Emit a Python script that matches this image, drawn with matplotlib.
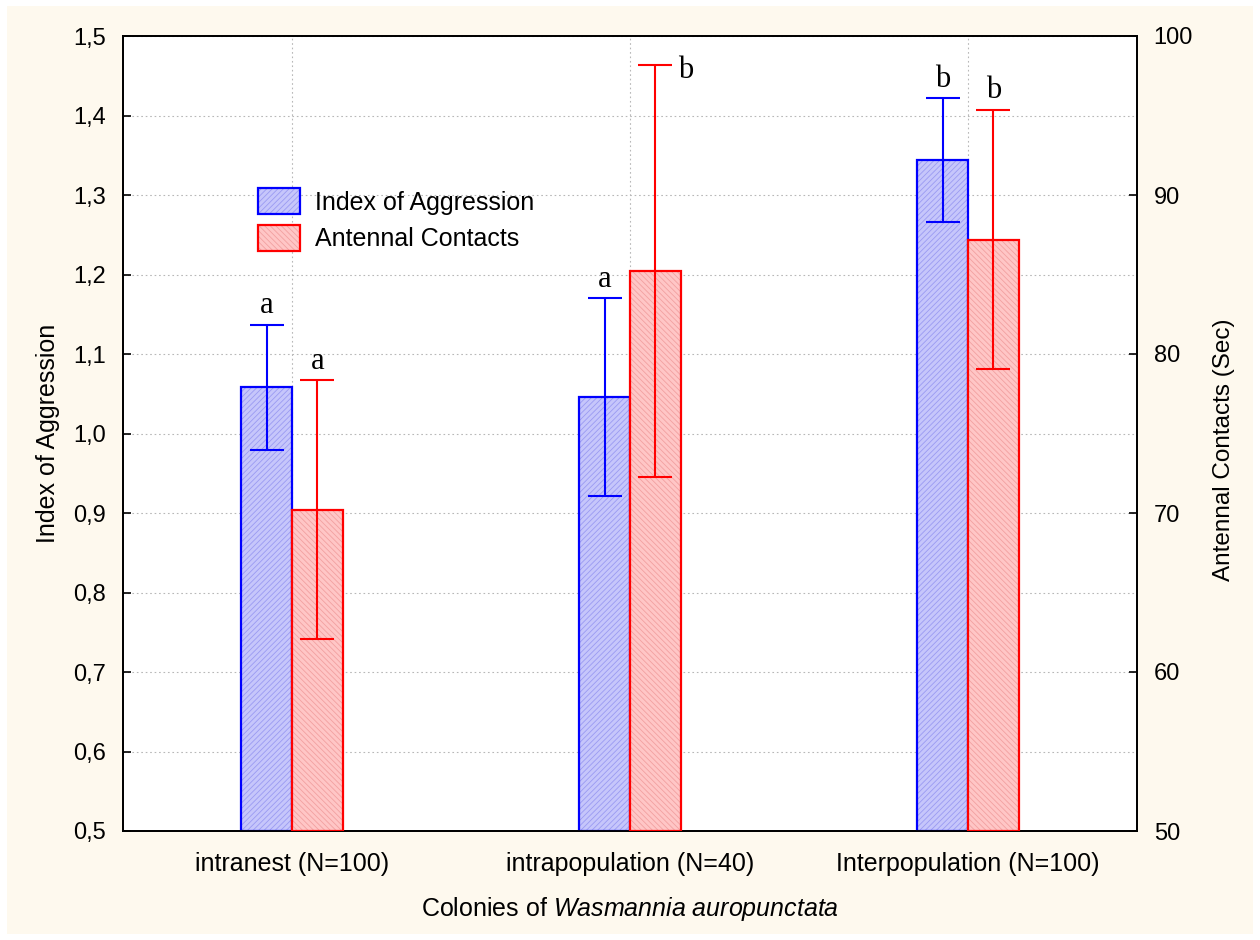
import numpy as np
import matplotlib.pyplot as plt
from matplotlib.patches import Patch, Rectangle
from matplotlib.legend_handler import HandlerTuple

plt.rcParams['font.family'] = ['Liberation Sans', 'DejaVu Sans']
plt.rcParams['mathtext.fontset'] = 'custom'
plt.rcParams['mathtext.it'] = 'Liberation Sans:italic'
plt.rcParams['mathtext.rm'] = 'Liberation Sans'
plt.rcParams['hatch.linewidth'] = 0.6

groups = ['intranest (N=100)', 'intrapopulation (N=40)', 'Interpopulation (N=100)']
aggr = [1.058, 1.046, 1.344]
aggr_err = [0.079, 0.124, 0.078]
contacts = [70.2, 85.2, 87.2]
contacts_err = [8.15, 12.95, 8.17]
aggr_letters = ['a', 'a', 'b']
contacts_letters = ['a', 'b', 'b']

fig = plt.figure(figsize=(12.6, 9.4), dpi=100, facecolor='white')
fig.patches.append(Rectangle((7/1260, 6/940), 1246/1260, 928/940, transform=fig.transFigure,
                             facecolor='#fef9ee', edgecolor='none', zorder=-10))
ax1 = fig.add_axes([123/1260, 1-831/940, 1014/1260, 795/940])
ax2 = ax1.twinx()

x = np.arange(len(groups))
w = 0.15

# blue bars (left axis)
ax1.bar(x - w/2, np.array(aggr) - 0.5, w, bottom=0.5, facecolor='#c6c6fb', edgecolor='#9a9af2',
        hatch='//////', linewidth=0, zorder=2)
ax1.bar(x - w/2, np.array(aggr) - 0.5, w, bottom=0.5, fill=False, edgecolor='blue', linewidth=1.6, zorder=3)
ax1.errorbar(x - w/2, aggr, yerr=aggr_err, fmt='none', ecolor='blue', elinewidth=1.5,
             capsize=12.5, capthick=1.5, zorder=4)

# red bars (right axis)
ax2.bar(x + w/2, np.array(contacts) - 50, w, bottom=50, facecolor='#ffc6c6', edgecolor='#f2a0a0',
        hatch='\\\\\\\\\\\\', linewidth=0, zorder=2)
ax2.bar(x + w/2, np.array(contacts) - 50, w, bottom=50, fill=False, edgecolor='red', linewidth=1.6, zorder=3)
ax2.errorbar(x + w/2, contacts, yerr=contacts_err, fmt='none', ecolor='red', elinewidth=1.5,
             capsize=12.5, capthick=1.5, zorder=4)

# significance letters
for i in range(len(groups)):
    ax1.annotate(aggr_letters[i], (x[i] - w/2, aggr[i] + aggr_err[i]), xytext=(0, 3),
                 textcoords='offset points', ha='center', va='bottom',
                 family='Liberation Serif', fontsize=22)
    if i == 1:
        ax2.annotate(contacts_letters[i], (x[i] + w/2, contacts[i] + contacts_err[i]), xytext=(16, -4),
                     textcoords='offset points', ha='left', va='center',
                     family='Liberation Serif', fontsize=22)
    else:
        ax2.annotate(contacts_letters[i], (x[i] + w/2, contacts[i] + contacts_err[i]), xytext=(0, 3),
                     textcoords='offset points', ha='center', va='bottom',
                     family='Liberation Serif', fontsize=22)

ax1.set_xlim(-0.5, 2.5)
ax1.set_ylim(0.5, 1.5)
ax2.set_ylim(50, 100)
ax1.set_xticks(x)
ax1.set_xticklabels(groups, fontsize=18)
yt = np.arange(0.5, 1.51, 0.1)
ax1.set_yticks(yt)
ax1.set_yticklabels([f'{v:.1f}'.replace('.', ',') for v in yt], fontsize=17)
ax2.set_yticks(np.arange(50, 101, 10))
ax2.tick_params(axis='y', labelsize=17)
ax1.tick_params(axis='y', direction='in', length=6, width=1.2, pad=12)
ax2.tick_params(axis='y', direction='in', length=6, width=1.2, pad=12)
ax1.tick_params(axis='x', length=0, pad=15)
ax1.grid(True, linestyle=(0, (1.5, 2.5)), color='#b8b8b8', linewidth=0.8, zorder=0)
ax1.set_axisbelow(True)
for ax in (ax1, ax2):
    for s in ax.spines.values():
        s.set_linewidth(1.3)

ax1.set_ylabel('Index of Aggression', fontsize=18, labelpad=10)
ax2.set_ylabel('Antennal Contacts (Sec)', fontsize=17.5)
ax2.yaxis.set_label_coords(1.075, 0.479)
ax1.set_xlabel('Colonies of $\\it{Wasmannia\\ auropunctata}$', fontsize=18, labelpad=14)

h1 = (Patch(facecolor='#c6c6fb', edgecolor='#9a9af2', hatch='//////', linewidth=0),
      Patch(fill=False, edgecolor='blue', linewidth=1.6))
h2 = (Patch(facecolor='#ffc6c6', edgecolor='#f2a0a0', hatch='\\\\\\\\\\\\', linewidth=0),
      Patch(fill=False, edgecolor='red', linewidth=1.6))
ax2.legend([h1, h2], ['Index of Aggression', 'Antennal Contacts'],
           handler_map={tuple: HandlerTuple(ndivide=1, pad=0)},
           loc='upper left', bbox_to_anchor=(258/1260, 1-188/940), bbox_transform=fig.transFigure,
           frameon=False, fontsize=18, handlelength=1.68, handleheight=1.25,
           borderpad=0, borderaxespad=0, labelspacing=0.4, handletextpad=0.6)

fig.savefig('out.png', dpi=100)
